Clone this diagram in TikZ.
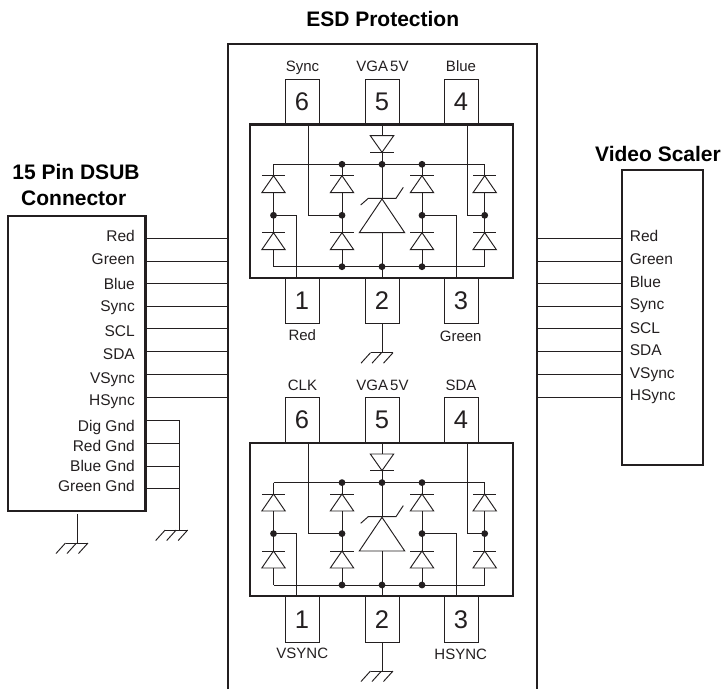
\documentclass[tikz,border=0pt]{standalone}
\usepackage{fontspec}
\setmainfont{Liberation Sans}
\definecolor{ink}{HTML}{231F20}
\tikzset{
  x=1pt,y=-1pt,
  wire/.style={draw=ink,line width=0.95pt},
  heavy/.style={draw=ink,line width=2.2pt,line join=miter},
  dot/.style={circle,fill=ink,draw=none,minimum size=6.8pt,inner sep=0pt},
  pinbox/.style={rectangle,draw=ink,line width=0.95pt,minimum width=34pt,minimum height=45.5pt,inner sep=0pt,text=ink,font=\fontsize{25.5}{28}\selectfont},
  lab/.style={anchor=base,inner sep=0pt,text=ink,font=\fontsize{15}{18}\selectfont},
  leftlab/.style={anchor=base east,inner sep=0pt,text=ink,font=\fontsize{15.5}{18}\selectfont},
  rightlab/.style={anchor=base west,inner sep=0pt,text=ink,font=\fontsize{15.5}{18}\selectfont},
  title/.style={anchor=base,inner sep=0pt,text=black,font=\fontsize{21}{24}\selectfont\bfseries},
  pics/gndsym/.style={code={
    \draw[wire] (-11.5,0) -- (11,0);
    \draw[wire] (-11.5,0) -- (-21,10.5);
    \draw[wire] (-0.5,0) -- (-10,10.5);
    \draw[wire] (11,0) -- (1.5,10.5);
  }},
  pics/diodeup/.style={code={
    \draw[wire] (-11.7,0) -- (11.7,0);
    \draw[wire,line join=miter] (0,0) -- (11.7,17) -- (-11.7,17) -- cycle;
  }},
  pics/diodedown/.style={code={
    \draw[wire,line join=miter] (0,16.6) -- (11.7,0) -- (-11.7,0) -- cycle;
    \draw[wire] (-11.7,16.6) -- (11.7,16.6);
  }},
}
\newcommand{\esdblock}[7]{%
\begin{scope}[shift={(0,#2)}]
  \node[pinbox] (#1p6) at (302,101.75) {6};
  \node[pinbox] (#1p5) at (382,101.75) {5};
  \node[pinbox] (#1p4) at (461,101.75) {4};
  \node[pinbox] (#1p1) at (302,301) {1};
  \node[pinbox] (#1p2) at (382,301) {2};
  \node[pinbox] (#1p3) at (461,301) {3};
  \node[lab] (#1t6) at (302.5,71.7) {#3};
  \node[lab] (#1t5) at (382.5,71.7) {VGA\kern2pt 5V};
  \node[lab] (#1t4) at (461,71.7) {#4};
  \node[lab] (#1t1) at (302.3,340) {#5};
  \node[lab] (#1t3) at (460.7,341) {#6};
  \node[heavy,rectangle,minimum width=263pt,minimum height=153.5pt,inner sep=0pt] (#1chip) at (381.5,201.3) {};
  % rails
  \coordinate (#1tl) at (273.5,164.3);
  \coordinate (#1tr) at (484.7,164.3);
  \coordinate (#1bl) at (273.5,266.7);
  \coordinate (#1br) at (484.7,266.7);
  \coordinate (#1ma) at (273.5,215.3);
  \coordinate (#1mb) at (342,215.3);
  \coordinate (#1mc) at (422,215.3);
  \coordinate (#1md) at (484.7,215.3);
  \draw[wire] (#1tl) -- (#1tr);
  \draw[wire] (#1bl) -- (#1br);
  % columns
  \foreach \cx/\cn in {273.5/a,342/b,422/c,484.7/d}{
    \draw[wire] (\cx,164.3) -- (\cx,175.7);
    \draw[wire] (\cx,192.7) -- (\cx,232.7);
    \draw[wire] (\cx,249.7) -- (\cx,266.7);
    \pic at (\cx,175.7) {diodeup};
    \pic at (\cx,232.7) {diodeup};
  }
  % centre column
  \draw[wire] (#1p5.south) -- (382,135.7);
  \pic at (382,135.7) {diodedown};
  \draw[wire] (382,152.3) -- (382,199);
  \draw[wire] (360.7,205) -- (368.3,198.3) -- (396,198.3) -- (403.3,187.3);
  \draw[wire,line join=miter] (382,199) -- (404.7,232.7) -- (359.3,232.7) -- cycle;
  \draw[wire] (382,232.7) -- (#1p2.north);
  % pin wires
  \draw[wire] (308,124.5) -- (308,215.3) -- (#1mb);
  \draw[wire] (467.7,124.5) -- (467.7,215.3) -- (#1md);
  \draw[wire] (#1ma) -- (296.7,215.3) -- (296.7,278);
  \draw[wire] (#1mc) -- (456,215.3) -- (456,278);
  % dots
  \foreach \dx/\dy in {342/164.3,382/164.3,422/164.3,273.5/215.3,342/215.3,422/215.3,484.7/215.3,342/266.7,382/266.7,422/266.7}{
    \node[dot] at (\dx,\dy) {};
  }
  % ground
  \coordinate (#1gnd) at (382,352.7);
  \draw[wire] (#1p2.south) -- (#1gnd);
  \pic at (#1gnd) {gndsym};
\end{scope}}
\begin{document}
\begin{tikzpicture}
\useasboundingbox (0,0) rectangle (722,689);
% titles
\node[title] (tesd) at (382.7,26.7) {ESD Protection};
\node[title] (tdsub) at (76,179) {15 Pin DSUB};
\node[title] (tconn) at (73.7,205) {Connector};
\node[title] (tscal) at (658,161) {Video Scaler};
% outer ESD box, open at the bottom
\coordinate (esdBL) at (228,689);
\coordinate (esdTL) at (228,44.3);
\coordinate (esdTR) at (536.7,44.3);
\coordinate (esdBR) at (536.7,689);
\draw[heavy] (esdBL) -- (esdTL) -- (esdTR) -- (esdBR);
% end boxes
\node[heavy,rectangle,minimum width=137.5pt,minimum height=295.3pt,inner sep=0pt] (dsub) at (76.8,363.3) {};
\node[heavy,rectangle,minimum width=80.7pt,minimum height=295pt,inner sep=0pt] (scaler) at (662.3,317.5) {};
% signal wires
\foreach \wy in {238.3,261,283.7,306,328.7,351.7,374.7,397.7}{
  \draw[wire] (dsub.east |- 0,\wy) -- (esdTL |- 0,\wy);
  \draw[wire] (esdTR |- 0,\wy) -- (scaler.west |- 0,\wy);
}
% left labels
\foreach \tx/\ty in {Red/241,Green/264.3,Blue/289,Sync/311.7,SCL/336,SDA/359,VSync/383,HSync/405.7,Dig Gnd/431.7,Red Gnd/451.7,Blue Gnd/471,Green Gnd/491}{
  \node[leftlab] at (135,\ty) {\tx};
}
% right labels
\foreach \tx/\ty in {Red/241.7,Green/264,Blue/287.7,Sync/309.3,SCL/333.3,SDA/355.7,VSync/378.3,HSync/400}{
  \node[rightlab] at (629.7,\ty) {\tx};
}
% ground wires of connector
\coordinate (gbus) at (179.7,420);
\coordinate (gnd3) at (179.7,530);
\foreach \wy in {420,443,466,488.3}{
  \draw[wire] (dsub.east |- 0,\wy) -- (gbus |- 0,\wy);
}
\draw[wire] (gbus) -- (gnd3);
\pic[xshift=-3pt] at (gnd3) {gndsym};
\coordinate (gnd4) at (77,543);
\coordinate (gnd4top) at (77,514);
\draw[wire] (gnd4top) -- (gnd4);
\pic at (gnd4) {gndsym};
% ESD blocks
\esdblock{u}{0}{Sync}{Blue}{Red}{Green}{}
\esdblock{v}{318.3}{CLK}{SDA}{VSYNC}{HSYNC}{}
\end{tikzpicture}
\end{document}
